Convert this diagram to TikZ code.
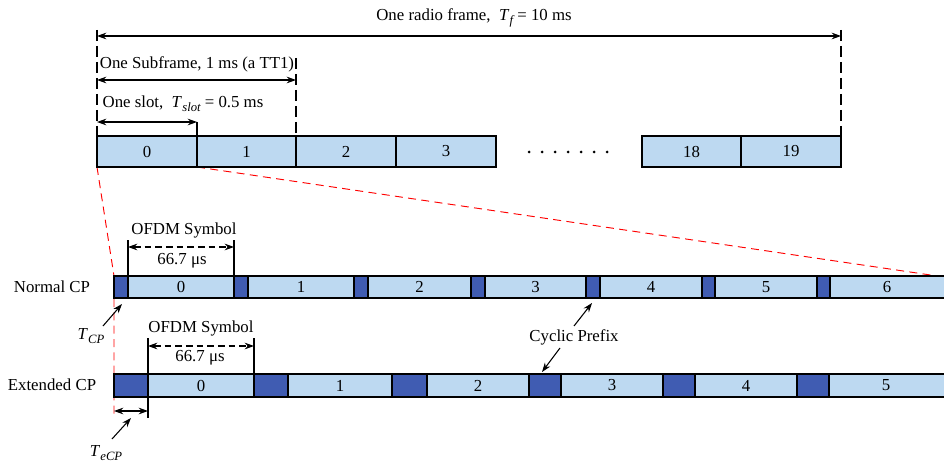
\documentclass[tikz,border=0pt]{standalone}
\usepackage{fontspec}
\setmainfont{Liberation Serif}
\usetikzlibrary{arrows.meta}
\definecolor{lb}{HTML}{BDD9F1}
\definecolor{db}{HTML}{405CB2}
\newcommand\Tsb[1]{\textit{T}\kern0.2pt\raisebox{-0.5ex}{\fontsize{9.5}{10}\selectfont\itshape #1}}
\newcommand\cellbox[7]{\node[#6, minimum width={(#3-#2)*0.75pt}, minimum height={(#5-#4)*0.75pt}, anchor=north west] (#1) at (#2,#4) {#7};}
\begin{document}
\begin{tikzpicture}[x=0.75pt,y=-0.75pt,font=\fontsize{12.6}{15}\selectfont,
  topbox/.style={draw=black, line width=1.7pt, fill=lb, inner sep=0pt, outer sep=0pt},
  sym/.style={draw=black, line width=1.3pt, fill=lb, inner sep=0pt, outer sep=0pt},
  cpb/.style={draw=black, line width=1.3pt, fill=db, inner sep=0pt, outer sep=0pt},
  tip/.tip={Stealth[length=7pt,width=5pt]},
  dim/.style={line width=0.8pt, tip-tip},
  ddim/.style={line width=0.8pt, tip-tip, dash pattern=on 5pt off 3pt},
  guide/.style={line width=0.8pt, dash pattern=on 8pt off 4pt},
  tick/.style={line width=0.8pt},
  reddash/.style={red, line width=0.7pt, dash pattern=on 6pt off 4pt},
  ptr/.style={line width=0.8pt, -tip},
  lbl/.style={inner sep=0pt}]
\useasboundingbox (0,0) rectangle (944,463);

% red zoom lines
\coordinate (r0) at (97,167);
\coordinate (r1) at (114,276);
\coordinate (r2) at (114,418);
\coordinate (r3) at (197,167);
\coordinate (r4) at (944,277);
\draw[reddash] (r0) -- (r1) -- (r2);
\draw[reddash] (r3) -- (r4);

% top row
\cellbox{t0}{97}{197}{136}{167}{topbox}{0}
\cellbox{t1}{197}{296}{136}{167}{topbox}{1}
\cellbox{t2}{296}{396}{136}{167}{topbox}{2}
\cellbox{t3}{396}{496}{136}{167}{topbox}{3}
\cellbox{t18}{642}{741}{136}{167}{topbox}{18}
\cellbox{t19}{741}{841}{136}{167}{topbox}{19}
\foreach \i in {0,...,6} \fill ({529+13*\i},152) circle (1.5);

% dimension guides
\coordinate (gL) at (97,30);
\coordinate (gR) at (841,30);
\coordinate (gS) at (296,58);
\coordinate (gs) at (197,122);
\draw[guide] (gL) -- (t0.north west);
\draw[guide] (gR) -- (t19.north east);
\draw[guide] (gS) -- (t1.north east);
\draw[tick] (gs) -- (t0.north east);

\coordinate (aF1) at (97,36);  \coordinate (aF2) at (841,36);
\coordinate (aS1) at (97,80);  \coordinate (aS2) at (296,80);
\coordinate (al1) at (97,122); 
\draw[dim] (aF1) -- (aF2);
\draw[dim] (aS1) -- (aS2);
\draw[dim] (al1) -- (gs);
\node[lbl] (lF) at (474,18) {One radio frame,\ \ \Tsb{f} = 10 ms};
\node[lbl] (lS) at (197,64) {One Subframe, 1 ms (a TT1)};
\node[lbl] (ll) at (183,104) {One slot,\ \ \Tsb{slot} = 0.5 ms};

% normal CP row
\node[lbl] (nlab) at (52,287) {Normal CP};
\cellbox{nc0}{114}{128}{276}{298}{cpb}{}
\cellbox{ns0}{128}{234}{276}{298}{sym}{0}
\cellbox{nc1}{234}{248}{276}{298}{cpb}{}
\cellbox{ns1}{248}{354}{276}{298}{sym}{1}
\cellbox{nc2}{354}{368}{276}{298}{cpb}{}
\cellbox{ns2}{368}{471}{276}{298}{sym}{2}
\cellbox{nc3}{471}{485}{276}{298}{cpb}{}
\cellbox{ns3}{485}{586}{276}{298}{sym}{3}
\cellbox{nc4}{586}{600}{276}{298}{cpb}{}
\cellbox{ns4}{600}{702}{276}{298}{sym}{4}
\cellbox{nc5}{702}{715}{276}{298}{cpb}{}
\cellbox{ns5}{715}{817}{276}{298}{sym}{5}
\cellbox{nc6}{817}{830}{276}{298}{cpb}{}
\cellbox{ns6}{830}{960}{276}{298}{sym}{}
\node at (887,287) {6};

% extended CP row
\node[lbl] (elab) at (52,385) {Extended CP};
\cellbox{ec0}{114}{148}{374}{397}{cpb}{}
\cellbox{es0}{148}{254}{374}{397}{sym}{0}
\cellbox{ec1}{254}{288}{374}{397}{cpb}{}
\cellbox{es1}{288}{392}{374}{397}{sym}{1}
\cellbox{ec2}{392}{427}{374}{397}{cpb}{}
\cellbox{es2}{427}{529}{374}{397}{sym}{2}
\cellbox{ec3}{529}{561}{374}{397}{cpb}{}
\cellbox{es3}{561}{663}{374}{397}{sym}{3}
\cellbox{ec4}{663}{695}{374}{397}{cpb}{}
\cellbox{es4}{695}{797}{374}{397}{sym}{4}
\cellbox{ec5}{797}{829}{374}{397}{cpb}{}
\cellbox{es5}{829}{960}{374}{397}{sym}{}
\node at (886,385) {5};

% OFDM symbol dimension, normal
\coordinate (no1) at (128,240); \coordinate (no2) at (234,240);
\draw[tick] (no1) -- (ns0.north west);
\draw[tick] (no2) -- (ns0.north east);
\coordinate (na1) at (128,247); \coordinate (na2) at (234,247);
\draw[ddim] (na1) -- (na2);
\node[lbl] (nt) at (184,230) {OFDM Symbol};
\node[lbl] (nu) at (182,261) {66.7 μs};

% OFDM symbol dimension, extended
\coordinate (eo1) at (148,338); \coordinate (eo2) at (254,338);
\draw[tick] (eo1) -- (es0.north west);
\draw[tick] (eo2) -- (es0.north east);
\coordinate (ea1) at (148,346); \coordinate (ea2) at (254,346);
\draw[ddim] (ea1) -- (ea2);
\node[lbl] (et) at (201,328) {OFDM Symbol};
\node[lbl] (eu) at (200,358) {66.7 μs};

% T_CP
\node[lbl] (tcp) at (91,336) {\Tsb{CP}};
\coordinate (tcpa) at (103,326); \coordinate (tcpb) at (122,304);
\draw[ptr] (tcpa) -- (tcpb);

% T_eCP
\coordinate (te0) at (148,418);
\draw[tick] (ec0.south east) -- (te0);
\coordinate (te1) at (114,411); \coordinate (te2) at (148,411);
\draw[dim] (te1) -- (te2);
\node[lbl] (tecp) at (106,453) {\Tsb{eCP}};
\coordinate (tea) at (112,439); \coordinate (teb) at (131,418);
\draw[ptr] (tea) -- (teb);

% cyclic prefix
\node[lbl] (cyc) at (574,337) {Cyclic Prefix};
\coordinate (cya) at (574,326); \coordinate (cyb) at (592,303);
\coordinate (cyc1) at (560,348); \coordinate (cyd) at (542,372);
\draw[ptr] (cya) -- (cyb);
\draw[ptr] (cyc1) -- (cyd);
\end{tikzpicture}
\end{document}
